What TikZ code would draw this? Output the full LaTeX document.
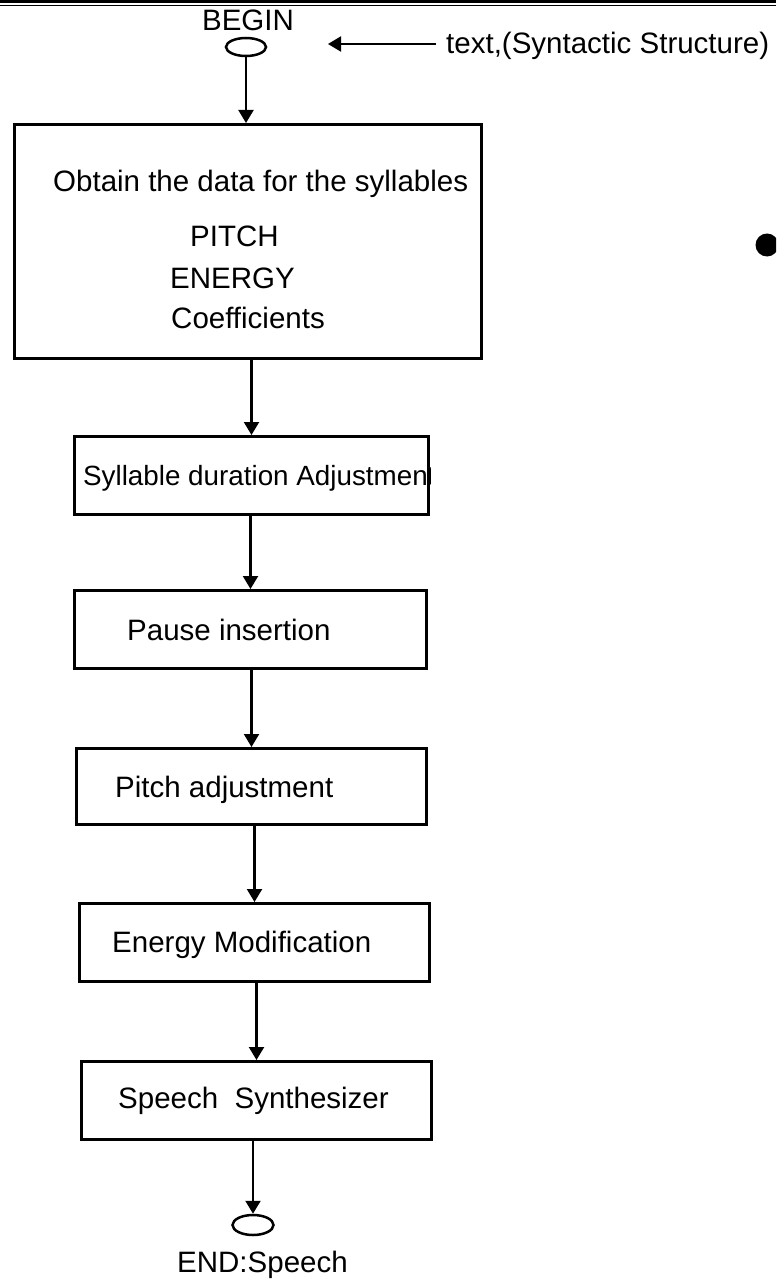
\documentclass[tikz,border=0pt]{standalone}
\usepackage{fontspec}
\setmainfont{Liberation Sans}
\usetikzlibrary{arrows.meta,shapes.geometric}
\begin{document}
\begin{tikzpicture}[x=1pt,y=-1pt,
  txt/.style={font=\fontsize{29.5}{34}\selectfont,inner sep=0pt},
  lbl/.style={txt,anchor=base west},
  stagebox/.style={draw=black,line width=3pt,inner sep=0pt,anchor=north west},
  conn/.style={line width=2.2pt,-{Triangle[width=15pt,length=13pt]}},
  terminal/.style={ellipse,draw,line width=2.5pt,minimum width=40pt,minimum height=18pt,inner sep=0pt}]
\useasboundingbox (0,0) rectangle (776,1281);
\clip (0,0) rectangle (776,1281);

% double rule along the top edge
\fill (0,0) rectangle (776,3.5);
\fill (0,4.8) rectangle (776,6.3);

% start terminal and incoming text
\node[txt,anchor=base] (beginlbl) at (248,31) {BEGIN};
\node[terminal] (begin) at (246,47) {};
\coordinate (inTail) at (436,44);
\coordinate (inTip) at (328,44);
\draw[conn] (inTail) -- (inTip);
\node[lbl] (intext) at (446,54) {text,(Syntactic Structure)};

% bullet at the right edge
\node[circle,fill=black,minimum size=23pt,inner sep=0pt] (dot) at (767,245) {};

% processing stages
\node[stagebox,minimum width=467pt,minimum height=234pt] (b1) at (13,123) {};
\node[lbl] (b1a) at (53,192) {Obtain the data for the syllables};
\node[lbl] (b1b) at (190,247) {PITCH};
\node[lbl] (b1c) at (170,288) {ENERGY};
\node[lbl] (b1d) at (171,328) {Coefficients};

\node[stagebox,minimum width=354pt,minimum height=78pt] (b2) at (73,435) {};
\begin{scope}
  \clip (b2.north west) rectangle (b2.south east);
  \node[lbl,font=\fontsize{27.8}{32}\selectfont] (b2a) at (83,485) {Syllable duration Adjustment};
\end{scope}

\node[stagebox,minimum width=352pt,minimum height=78pt] (b3) at (73,589) {};
\node[lbl] (b3a) at (127,640) {Pause insertion};

\node[stagebox,minimum width=350pt,minimum height=76pt] (b4) at (75,747) {};
\node[lbl] (b4a) at (115,797) {Pitch adjustment};

\node[stagebox,minimum width=350pt,minimum height=78pt] (b5) at (78,902) {};
\node[lbl] (b5a) at (112,952) {Energy Modification};

\node[stagebox,minimum width=350pt,minimum height=78pt] (b6) at (80,1060) {};
\node[lbl] (b6a) at (118,1108) {Speech\ \ Synthesizer};

% end terminal
\node[terminal,minimum width=41pt,minimum height=20pt] (end) at (253,1225) {};
\node[lbl] (endlbl) at (177,1272) {END:Speech};

% flow connectors
\draw[conn] (begin.south) -- (begin.south |- b1.north);
\draw[conn] (b2.north |- b1.south) -- (b2.north);
\draw[conn] (b3.north |- b2.south) -- (b3.north);
\draw[conn] (b4.north |- b3.south) -- (b4.north);
\draw[conn] (b5.north |- b4.south) -- (b5.north);
\draw[conn] (b6.north |- b5.south) -- (b6.north);
\draw[conn] (end.north |- b6.south) -- (end.north);
\end{tikzpicture}
\end{document}
